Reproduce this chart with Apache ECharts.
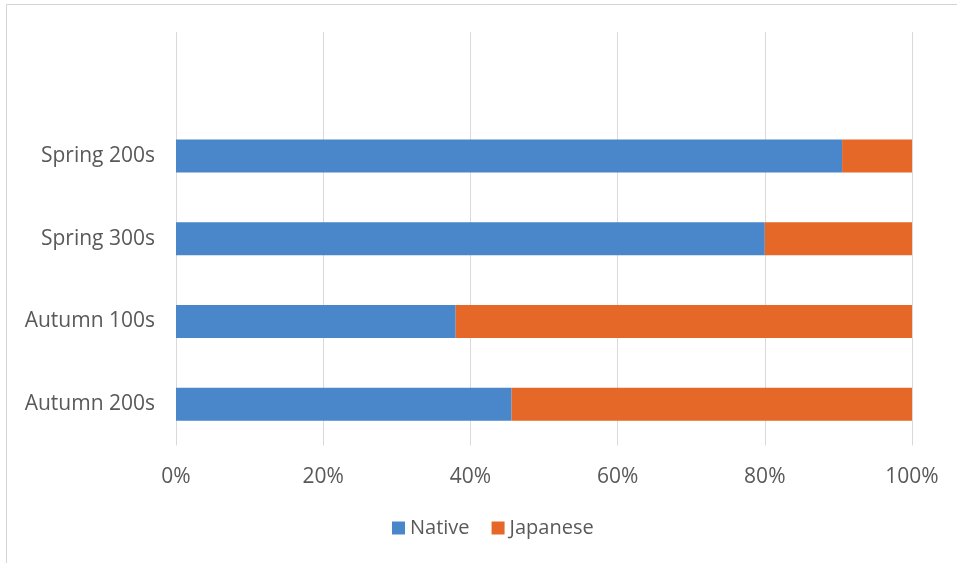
<!DOCTYPE html>
<html>
<head>
<meta charset="utf-8">
<script src="https://cdn.jsdelivr.net/npm/echarts@6/dist/echarts.min.js"></script>
<style>
html,body{margin:0;padding:0;background:#fff;}
#chart{width:957px;height:563px;}
</style>
</head>
<body>
<div id="chart"></div>
<script>
var categories = ['', 'Spring 200s', 'Spring 300s', 'Autumn 100s', 'Autumn 200s'];
var nativeValues = [null, 90.5, 80, 38, 45.6];
var japaneseValues = [null, 9.5, 20, 62, 54.4];
var tickLabels = ['0%', '20%', '40%', '60%', '80%', '100%'];

var chart = echarts.init(document.getElementById('chart'), null, {renderer: 'canvas'});
var font = '"Open Sans", "Liberation Sans", sans-serif';
chart.setOption({
  animation: false,
  backgroundColor: '#ffffff',
  graphic: [{
    type: 'rect',
    shape: {x: 6.5, y: 4.5, width: 1200, height: 1200},
    style: {fill: 'none', stroke: '#d4d4d4', lineWidth: 1},
    silent: true
  }],
  grid: {left: 176, right: 45, top: 32, bottom: 117.5, containLabel: false},
  legend: {
    data: ['Native', 'Japanese'],
    left: 387,
    top: 513,
    itemWidth: 13,
    itemHeight: 13,
    itemGap: 22,
    icon: 'rect',
    textStyle: {color: '#595959', fontSize: 20, fontFamily: font}
  },
  xAxis: {
    type: 'value',
    min: 0,
    max: 100,
    interval: 20,
    axisLine: {show: false},
    axisTick: {show: false},
    axisLabel: {
      color: '#595959',
      fontSize: 21,
      fontFamily: font,
      margin: 21,
      formatter: function (v) { return tickLabels[Math.round(v / 20)]; }
    },
    splitLine: {lineStyle: {color: '#d9d9d9', width: 1}}
  },
  yAxis: {
    type: 'category',
    data: categories,
    inverse: true,
    axisLine: {show: false},
    axisTick: {show: false},
    axisLabel: {color: '#595959', fontSize: 21, fontFamily: font, margin: 21},
    splitLine: {show: false}
  },
  series: [{
    name: 'Native',
    type: 'bar',
    stack: 'total',
    barWidth: 33,
    data: nativeValues,
    itemStyle: {color: '#4a87ca'}
  }, {
    name: 'Japanese',
    type: 'bar',
    stack: 'total',
    barWidth: 33,
    data: japaneseValues,
    itemStyle: {color: '#e56828'}
  }]
});
</script>
</body>
</html>
